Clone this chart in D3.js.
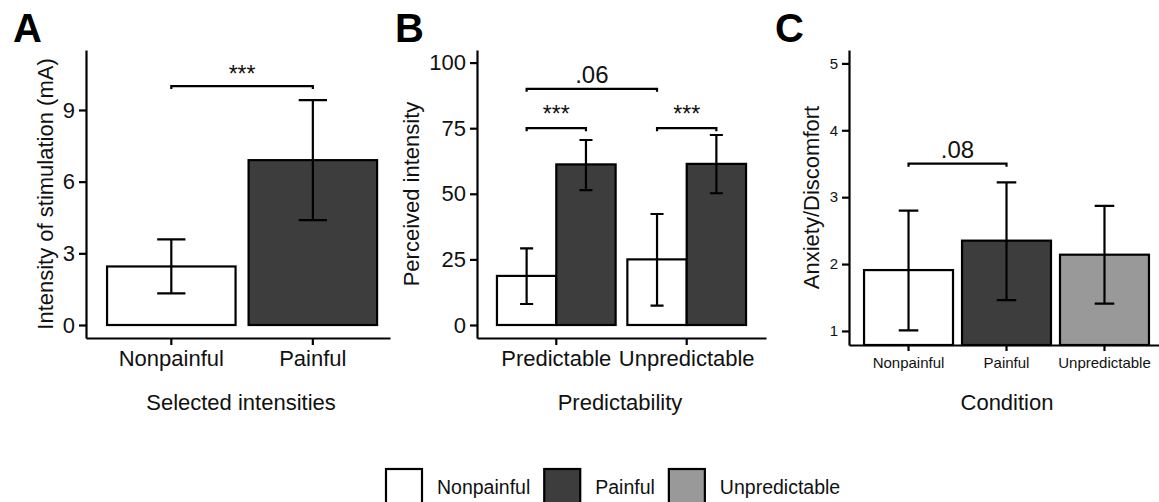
<!DOCTYPE html>
<html>
<head>
<meta charset="utf-8">
<script src="https://cdn.jsdelivr.net/npm/d3@7"></script>
<style>
    body { margin: 0; background: #fff; }
    svg { display: block; font-family: "Liberation Sans", Arial, sans-serif; }
    .axis path, .axis line { stroke: #000; stroke-width: 2.2; }
    .axis text { fill: #111; }
</style>
</head>
<body>
<script>
"use strict";

// Panel A
const A_CATEGORIES = ["Nonpainful", "Painful"];
const A_MEANS = [2.45, 6.9];
const A_LOWER = [1.32, 4.39];
const A_UPPER = [3.58, 9.41];
const A_TICKS = [0, 3, 6, 9];

// Panel B
const B_GROUPS = ["Predictable", "Unpredictable"];
const B_SERIES = ["Nonpainful", "Painful"];
const B_MEANS = [[18.7, 61.2], [25.0, 61.4]];
const B_LOWER = [[8.0, 51.4], [7.4, 50.2]];
const B_UPPER = [[29.2, 70.5], [42.3, 72.4]];
const B_TICKS = [0, 25, 50, 75, 100];

// Panel C
const C_CATEGORIES = ["Nonpainful", "Painful", "Unpredictable"];
const C_MEANS = [1.91, 2.35, 2.14];
const C_LOWER = [1.01, 1.46, 1.41];
const C_UPPER = [2.80, 3.22, 2.87];
const C_TICKS = [1, 2, 3, 4, 5];

const LEGEND_KEYS = ["Nonpainful", "Painful", "Unpredictable"];
const FILLS = { Nonpainful: "#ffffff", Painful: "#3d3d3d", Unpredictable: "#999999" };

const WIDTH = 1159;
const HEIGHT = 502;
const LINE_W = 2.2;

const SVG = d3.select("body").append("svg")
    .attr("width", WIDTH)
    .attr("height", HEIGHT);

function singleRecords(cats, means, lower, upper) {
    return cats.map((c, i) => ({ group: c, series: "all", key: c, mean: means[i], lo: lower[i], hi: upper[i] }));
}

function groupedRecords(groups, series, means, lower, upper) {
    const out = [];
    groups.forEach((g, i) => {
        series.forEach((s, j) => {
            out.push({ group: g, series: s, key: s, mean: means[i][j], lo: lower[i][j], hi: upper[i][j] });
        });
    });
    return out;
}

function drawPanel(p) {
    const g = SVG.append("g");

    const y = d3.scaleLinear().domain(p.yDomain).range([p.bottom, p.top]);
    const x0 = d3.scaleBand().domain(p.groups).range([p.left, p.right])
        .paddingInner(p.padIn).paddingOuter(p.padOut).align(p.align);
    const x1 = d3.scaleBand().domain(p.series).range([0, x0.bandwidth()]);
    const cx = (grp, ser) => x0(grp) + x1(ser) + x1.bandwidth() / 2;
    const base = p.base === undefined ? p.yDomain[0] : p.base;

    // bars
    g.append("g").selectAll("rect")
        .data(p.records)
        .join("rect")
        .attr("x", d => x0(d.group) + x1(d.series))
        .attr("y", d => y(d.mean))
        .attr("width", x1.bandwidth())
        .attr("height", d => y(base) - y(d.mean))
        .attr("fill", d => FILLS[d.key])
        .attr("stroke", "#000")
        .attr("stroke-width", LINE_W);

    // error bars
    const capW = x1.bandwidth() * 0.22;
    const eb = g.append("g").attr("stroke", "#000").attr("stroke-width", LINE_W).attr("fill", "none");
    eb.selectAll("path")
        .data(p.records)
        .join("path")
        .attr("d", d => {
            const x = cx(d.group, d.series);
            return `M${x - capW / 2},${y(d.hi)}H${x + capW / 2}M${x},${y(d.hi)}V${y(d.lo)}M${x - capW / 2},${y(d.lo)}H${x + capW / 2}`;
        });

    // axes
    g.append("g")
        .attr("class", "axis")
        .attr("transform", `translate(${p.left},0)`)
        .call(d3.axisLeft(y).tickValues(p.yTicks).tickFormat(d3.format("d"))
            .tickSize(7).tickPadding(4).tickSizeOuter(0))
        .selectAll("text")
        .style("font-size", p.yTickFont + "px");

    g.append("g")
        .attr("class", "axis")
        .attr("transform", `translate(0,${p.bottom})`)
        .call(d3.axisBottom(x0).tickSize(p.xTickSize).tickPadding(p.xTickPad).tickSizeOuter(0))
        .selectAll("text")
        .style("font-size", p.xTickFont + "px");

    // significance brackets
    const sig = g.append("g");
    p.signif.forEach(s => {
        const xa = cx(s.from[0], s.from[1]);
        const xb = cx(s.to[0], s.to[1]);
        const yy = y(s.y);
        sig.append("path")
            .attr("d", `M${xa},${yy + 3}V${yy}H${xb}V${yy + 3}`)
            .attr("fill", "none")
            .attr("stroke", "#000")
            .attr("stroke-width", LINE_W);
        sig.append("text")
            .attr("x", (xa + xb) / 2)
            .attr("y", yy - p.labelGap)
            .attr("text-anchor", "middle")
            .style("font-size", (s.label === "***" ? 23 : 24) + "px")
            .attr("fill", "#111")
            .text(s.label);
    });

    // titles
    g.append("text")
        .attr("transform", `translate(${p.yTitleX},${(p.top + p.bottom) / 2}) rotate(-90)`)
        .attr("text-anchor", "middle")
        .style("font-size", "22px")
        .attr("fill", "#111")
        .text(p.yTitle);

    g.append("text")
        .attr("x", p.xTitleX)
        .attr("y", 410)
        .attr("text-anchor", "middle")
        .style("font-size", "22px")
        .attr("fill", "#111")
        .text(p.xTitle);

    g.append("text")
        .attr("x", p.letterX)
        .attr("y", 42)
        .style("font-size", "40px")
        .style("font-weight", "bold")
        .attr("fill", "#000")
        .text(p.letter);
}

drawPanel({
    letter: "A", letterX: 13,
    left: 86, right: 390, top: 50, bottom: 338,
    yDomain: [-0.544, 11.51], base: 0, yTicks: A_TICKS,
    groups: A_CATEGORIES, series: ["all"],
    records: singleRecords(A_CATEGORIES, A_MEANS, A_LOWER, A_UPPER),
    padIn: 0.092, padOut: 0.12, align: 0.62,
    yTickFont: 22, xTickFont: 22, xTickSize: 7, xTickPad: 5,
    labelGap: 4,
    signif: [{ from: ["Nonpainful", "all"], to: ["Painful", "all"], y: 10, label: "***" }],
    yTitle: "Intensity of stimulation (mA)", yTitleX: 53,
    xTitle: "Selected intensities", xTitleX: 241
});

drawPanel({
    letter: "B", letterX: 395,
    left: 477, right: 766, top: 50, bottom: 338,
    yDomain: [-4.96, 104.8], base: 0, yTicks: B_TICKS,
    groups: B_GROUPS, series: B_SERIES,
    records: groupedRecords(B_GROUPS, B_SERIES, B_MEANS, B_LOWER, B_UPPER),
    padIn: 0.09, padOut: 0.153, align: 0.5,
    yTickFont: 22, xTickFont: 22, xTickSize: 7, xTickPad: 5,
    labelGap: 6,
    signif: [
        { from: ["Predictable", "Nonpainful"], to: ["Unpredictable", "Nonpainful"], y: 90, label: ".06" },
        { from: ["Predictable", "Nonpainful"], to: ["Predictable", "Painful"], y: 75, label: "***" },
        { from: ["Unpredictable", "Nonpainful"], to: ["Unpredictable", "Painful"], y: 75, label: "***" }
    ],
    yTitle: "Perceived intensity", yTitleX: 419,
    xTitle: "Predictability", xTitleX: 620
});

drawPanel({
    letter: "C", letterX: 775,
    left: 849, right: 1159, top: 50, bottom: 345,
    yDomain: [0.79, 5.2], yTicks: C_TICKS,
    groups: C_CATEGORIES, series: ["all"],
    records: singleRecords(C_CATEGORIES, C_MEANS, C_LOWER, C_UPPER),
    padIn: 0.092, padOut: 0.128, align: 0.6,
    yTickFont: 15, xTickFont: 15, xTickSize: 6, xTickPad: 6,
    labelGap: 6,
    signif: [{ from: ["Nonpainful", "all"], to: ["Painful", "all"], y: 3.5, label: ".08" }],
    yTitle: "Anxiety/Discomfort", yTitleX: 819,
    xTitle: "Condition", xTitleX: 1007
});

// legend
const LEGEND = SVG.append("g").attr("class", "legend");
let lx = 386;
LEGEND_KEYS.forEach(k => {
    LEGEND.append("rect")
        .attr("x", lx)
        .attr("y", 469)
        .attr("width", 36)
        .attr("height", 36)
        .attr("fill", FILLS[k])
        .attr("stroke", "#000")
        .attr("stroke-width", LINE_W);
    const t = LEGEND.append("text")
        .attr("x", lx + 36 + 15)
        .attr("y", 494)
        .style("font-size", "19.5px")
        .attr("fill", "#111")
        .text(k);
    lx += 36 + 15 + t.node().getComputedTextLength() + 14;
});
</script>
</body>
</html>
